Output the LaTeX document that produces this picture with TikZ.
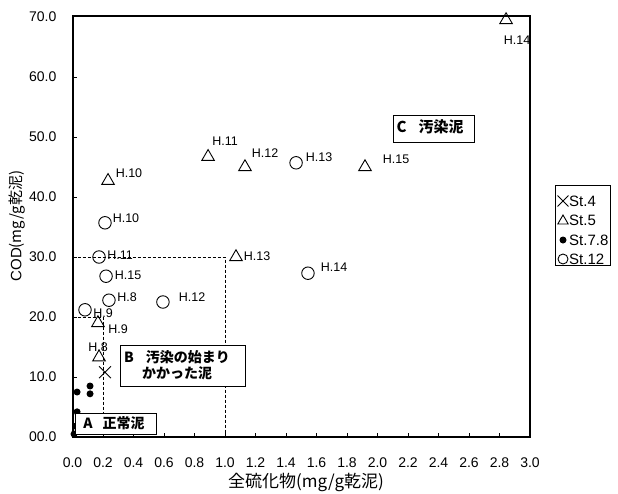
\documentclass[tikz,border=0pt]{standalone}
\usepackage{fontspec}
\setmainfont{Liberation Sans}
\newfontfamily\cjk{Noto Sans CJK JP}
\usetikzlibrary{shapes.geometric,shapes.misc}
\begin{document}
\begin{tikzpicture}[x=1pt,y=-1pt,
  tri/.style={regular polygon, regular polygon sides=3, draw, line width=0.9pt, minimum size=14.5pt, inner sep=0pt},
  circ/.style={circle, draw, line width=0.9pt, minimum size=12.5pt, inner sep=0pt},
  dotm/.style={circle, fill, minimum size=7pt, inner sep=0pt},
  xm/.style={cross out, draw, line width=0.9pt, minimum size=11pt, inner sep=0pt},
  lab/.style={font=\fontsize{12.5}{14}\selectfont, inner sep=0pt},
  tk/.style={font=\fontsize{14}{16}\selectfont, inner sep=0pt},
  regbox/.style={draw, line width=0.8pt, fill=white, inner sep=0pt},
  regtext/.style={font=\cjk\bfseries\fontsize{14}{16}\selectfont, inner sep=0pt},
  guide/.style={dashed, dash pattern=on 3pt off 2pt, line width=0.6pt},
  frame/.style={line width=1.2pt},
  legtext/.style={font=\fontsize{15}{17}\selectfont, inner sep=0pt, anchor=west}
]
\useasboundingbox (0,0) rectangle (618,493);
% frame
\coordinate (fTL) at (73,16);
\coordinate (fBR) at (530,437);
\draw[frame] (fTL) rectangle (fBR);
% data scope
\begin{scope}[shift={(72.5,437)}, x=152.5pt, y=6pt]
  % ticks
  \foreach \i in {1,...,14} {\coordinate (xt\i) at (0.2*\i,0); \draw[line width=0.6pt] (xt\i) -- ++(0,0.7);}
  \foreach \v in {1,...,6} {\coordinate (yt\v) at (0,10*\v); \draw[line width=0.6pt] (yt\v) -- ++(0.03,0);}
  % tick labels
  \foreach \i/\t in {0/0.0,1/0.2,2/0.4,3/0.6,4/0.8,5/1.0,6/1.2,7/1.4,8/1.6,9/1.8,10/2.0,11/2.2,12/2.4,13/2.6,14/2.8,15/3.0}
    {\node[tk] (xl\i) at (0.2*\i,-4.2) {\t};}
  \foreach \v in {0,...,7}
    {\node[tk, anchor=east] (yl\v) at (-0.105,10*\v) {\v0.0};}
  % guide lines
  \coordinate (g20) at (0,20); \coordinate (g20c) at (0.2,20); \coordinate (g0a) at (0.2,0);
  \coordinate (g30) at (0,30); \coordinate (g30c) at (1.0,30); \coordinate (g0b) at (1.0,0);
  \draw[guide] (g20) -- (g20c) -- (g0a);
  \draw[guide] (g30) -- (g30c) -- (g0b);
  % St.7.8 dots
  \node[dotm] (d1) at (0.03,7.5) {};
  \node[dotm] (d2) at (0.115,8.5) {};
  \node[dotm] (d3) at (0.115,7.2) {};
  \node[dotm] (d4) at (0.03,4.2) {};
  \node[dotm] (d5) at (0.02,1.8) {};
  \node[dotm] (d6) at (0.01,0.5) {};
  % St.4
  \node[xm] (x1) at (0.213,10.8) {};
  % St.5 triangles
  \node[tri] (t14) at (2.843,69.5) {};
  \node[tri] (t11) at (0.889,46.7) {};
  \node[tri] (t12) at (1.131,45.0) {};
  \node[tri] (t15) at (1.918,45.0) {};
  \node[tri] (t10) at (0.233,42.7) {};
  \node[tri] (t13) at (1.072,30.0) {};
  \node[tri] (t9) at (0.167,19.0) {};
  \node[tri] (t8) at (0.174,13.3) {};
  % St.12 circles
  \node[circ] (c13) at (1.466,45.7) {};
  \node[circ] (c14) at (1.544,27.3) {};
  \node[circ] (c10) at (0.213,35.7) {};
  \node[circ] (c11) at (0.174,30.0) {};
  \node[circ] (c15) at (0.220,26.8) {};
  \node[circ] (c8) at (0.239,22.8) {};
  \node[circ] (c12) at (0.593,22.5) {};
  \node[circ] (c9) at (0.082,21.2) {};
\end{scope}
% point labels (pixel coordinates)
\node[lab] (lt14) at (517,40) {H.14};
\node[lab] (lt11) at (225,141) {H.11};
\node[lab] (lt12) at (265,153) {H.12};
\node[lab] (lc13) at (319,157) {H.13};
\node[lab] (lt15) at (396,159) {H.15};
\node[lab] (lt10) at (129,173) {H.10};
\node[lab] (lc10) at (126,218) {H.10};
\node[lab] (lc11) at (120,255) {H.11};
\node[lab] (lt13) at (257,256) {H.13};
\node[lab] (lc14) at (334,267) {H.14};
\node[lab] (lc15) at (128,275) {H.15};
\node[lab] (lc8) at (127,297) {H.8};
\node[lab] (lc12) at (192,297) {H.12};
\node[lab] (lc9) at (103,313) {H.9};
\node[lab] (lt9) at (118,329) {H.9};
\node[lab] (lt8) at (98,347) {H.8};
% region boxes
\node[regbox, minimum width=81pt, minimum height=21pt] (boxA) at (115.5,423.5) {};
\node[regtext] (txtA) at (114,423.5) {A\hspace{10pt}正常泥};
\node[regbox, minimum width=125pt, minimum height=41pt] (boxB) at (182.5,365.5) {};
\node[regtext, anchor=west, align=left] (txtB) at (124,365.5) {B\hspace{12pt}汚染の始まり\\\hspace{18pt}かかった泥};
\node[regbox, minimum width=81pt, minimum height=27pt] (boxC) at (433.5,128.5) {};
\node[regtext, font=\cjk\bfseries\fontsize{15}{17}\selectfont] (txtC) at (430,126.5) {C\hspace{12pt}汚染泥};
% axis titles
\node[font=\fontsize{15}{17}\selectfont, rotate=90, inner sep=0pt] (ytitle) at (17,226) {COD{\cjk (mg/g乾泥)}};
\node[font=\cjk\fontsize{17}{19}\selectfont, inner sep=0pt] (xtitle) at (306,482) {全硫化物(mg/g乾泥)};
% legend
\node[draw, line width=0.7pt, minimum width=55pt, minimum height=80pt, inner sep=0pt] (legbox) at (582.5,225) {};
\node[xm, minimum size=10pt] (lgx) at (563,201) {};
\node[legtext] (lgxt) at (569,201) {St.4};
\node[tri, minimum size=12pt] (lgt) at (563,221) {};
\node[legtext] (lgtt) at (569,220) {St.5};
\node[dotm] (lgd) at (563,240) {};
\node[legtext] (lgdt) at (569,240) {St.7.8};
\node[circ, minimum size=10pt] (lgc) at (563,259) {};
\node[legtext] (lgct) at (569,259) {St.12};
\end{tikzpicture}
\end{document}
